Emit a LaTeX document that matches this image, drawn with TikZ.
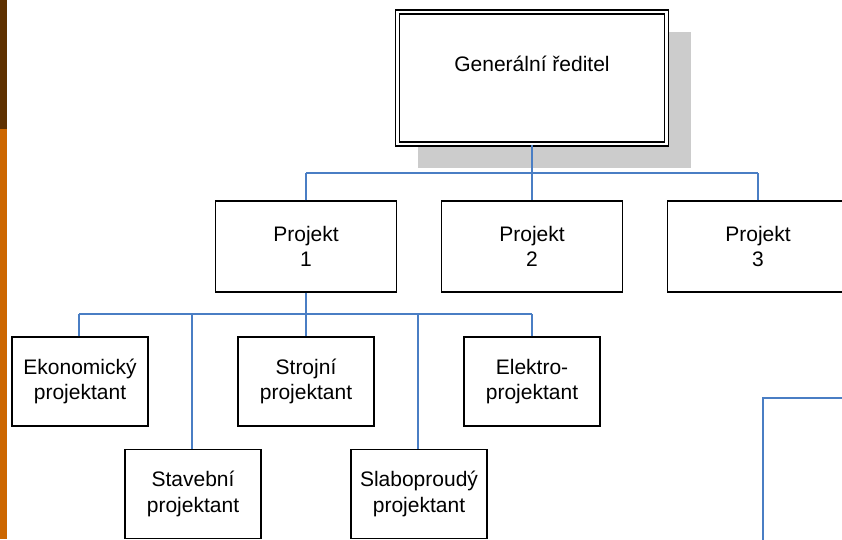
\documentclass[tikz,border=0pt]{standalone}
\usepackage{fontspec}
\setmainfont{Liberation Sans}
\definecolor{linkblue}{HTML}{4A7EC4}
\definecolor{barbrown}{HTML}{5E3000}
\definecolor{barorange}{HTML}{CC6600}
\definecolor{shadowgray}{HTML}{CCCCCC}
\begin{document}
\begin{tikzpicture}[x=1pt,y=-1pt,
  box/.style={draw=black,line width=1.5pt,fill=white,inner sep=0pt,align=center,
    font=\fontsize{21}{25.5}\selectfont},
  lvlone/.style={box,minimum width=181pt,minimum height=91pt},
  lvltwo/.style={box,minimum width=136pt,minimum height=89pt},
  hconn/.style={draw=linkblue,line width=1.2pt},
  vconn/.style={draw=linkblue,line width=2pt}]
\useasboundingbox (0,0) rectangle (842,539);
\clip (0,0) rectangle (842,539);
\fill[white] (0,0) rectangle (842,539);
% side bar
\fill[barbrown] (0,0) rectangle (7,129);
\fill[barorange] (0,129) rectangle (7,539);
% director box with its shadow
\fill[shadowgray] (418,32) rectangle (691,168);
\node[draw=black,line width=1.5pt,double=white,double distance=2.5pt,fill=white,
  minimum width=269pt,minimum height=132pt,inner sep=0pt] (ceo) at (532,78) {};
\node[font=\fontsize{21}{25.5}\selectfont] (ceotext) at (532,64) {Generální ředitel};
% projects
\node[lvlone] (p1) at (306,246.5) {Projekt\\1};
\node[lvlone] (p2) at (532,246.5) {Projekt\\2};
\node[lvlone] (p3) at (758,246.5) {Projekt\\3};
% designers
\node[lvltwo] (eko) at (80,381.5) {Ekonomický\\projektant};
\node[lvltwo] (stroj) at (306,381.5) {Strojní\\projektant};
\node[lvltwo] (elek) at (532,381.5) {Elektro-\\projektant};
\node[lvltwo] (stav) at (193,494) {Stavební\\projektant};
\node[lvltwo] (slabo) at (419,494) {Slaboproudý\\projektant};
% connectors
\coordinate (busA) at (0,173);
\coordinate (busB) at (0,314);
\coordinate (ekotop) at ([xshift=-1pt]eko.north);
\coordinate (stavtop) at ([xshift=-1pt]stav.north);
\coordinate (slabotop) at ([xshift=-1pt]slabo.north);
\draw[hconn] (p1.north |- busA) -- (p3.north |- busA);
\draw[vconn] (ceo.south) -- (p2.north);
\draw[vconn] (p1.north) -- (p1.north |- busA);
\draw[vconn] (p3.north) -- (p3.north |- busA);
\draw[hconn] (ekotop |- busB) -- (elek.north |- busB);
\draw[vconn] (p1.south) -- (stroj.north);
\draw[hconn] (ekotop) -- (ekotop |- busB);
\draw[hconn] (elek.north) -- (elek.north |- busB);
\draw[hconn] (stavtop) -- (stavtop |- busB);
\draw[hconn] (slabotop) -- (slabotop |- busB);
% partial connector at the lower right
\coordinate (cornerR) at (763,398);
\coordinate (cornerEnd) at (850,398);
\coordinate (cornerFoot) at (763,545);
\draw[vconn] (cornerFoot) -- (cornerR) -- (cornerEnd);
\end{tikzpicture}
\end{document}
